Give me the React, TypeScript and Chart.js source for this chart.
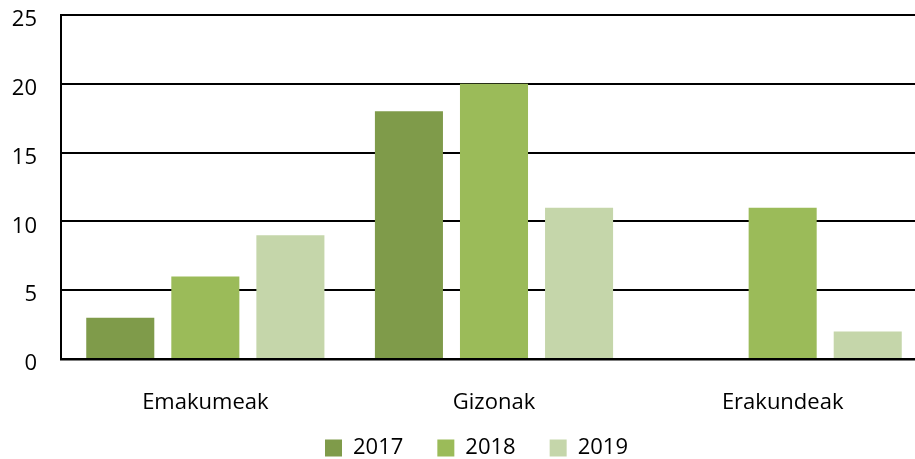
import React, { useEffect, useRef } from "react";
import { Chart, registerables } from "chart.js";

Chart.register(...registerables);

const categories = ["Emakumeak", "Gizonak", "Erakundeak"];
const seriesNames = ["2017", "2018", "2019"];
const values2017 = [3, 18, 0];
const values2018 = [6, 20, 11];
const values2019 = [9, 11, 2];
const colors = ["#7f9b4a", "#9bbb59", "#c5d6aa"];

const CANVAS_W = 927;
const CANVAS_H = 459;

const legendPlacePlugin = {
  id: "legendPlace",
  beforeLayout(chart: any) {
    const lg = chart.legend;
    if (lg && !lg.__patched) {
      const orig = lg.fit;
      lg.fit = function () {
        orig.call(this);
        this.height = 44;
      };
      lg.__patched = true;
    }
  },
  afterLayout(chart: any) {
    const lg = chart.legend;
    if (lg) {
      lg.top = 403;
      lg.bottom = 459;
      lg.height = 56;
      lg.left += 13;
      lg.right += 13;
    }
  },
};

export default function App() {
  const ref = useRef<HTMLCanvasElement | null>(null);
  useEffect(() => {
    document.body.style.margin = "0";
    const font = { family: "'Open Sans'", size: 22 };
    const chart = new Chart(ref.current as HTMLCanvasElement, {
      type: "bar",
      data: {
        labels: categories,
        datasets: [values2017, values2018, values2019].map((v, i) => ({
          label: seriesNames[i],
          data: v,
          backgroundColor: colors[i],
          borderWidth: 0,
          categoryPercentage: 0.884,
          barPercentage: 0.8,
        })),
      },
      plugins: [legendPlacePlugin],
      options: {
        animation: false,
        responsive: false,
        maintainAspectRatio: false,
        layout: { padding: { top: 15, right: 0, left: 0, bottom: 0 } },
        plugins: {
          legend: {
            position: "bottom",
            labels: {
              font,
              color: "#000",
              boxWidth: 17,
              boxHeight: 17,
              padding: 34,
            },
          },
          tooltip: { enabled: false },
        },
        scales: {
          x: {
            grid: { display: false, drawTicks: false },
            border: { display: true, color: "#000", width: 2.5 },
            ticks: { font, color: "#000", padding: 31 },
            afterFit: (s: any) => {
              s.height = 56;
              s.paddingLeft = 0;
              s.paddingRight = 0;
            },
          },
          y: {
            min: 0,
            max: 25,
            ticks: { stepSize: 5, font, color: "#000", padding: 24, labelOffset: 5 },
            grid: { color: "#000", lineWidth: 2, drawTicks: false },
            border: { display: true, color: "#000", width: 2 },
            afterFit: (s: any) => {
              s.width = 61;
              s.paddingTop = 0;
              s.paddingBottom = 0;
            },
          },
        },
      },
    });
    return () => chart.destroy();
  }, []);
  return (
    <div style={{ width: 915, height: 459, overflow: "hidden" }}>
      <canvas
        ref={ref}
        width={CANVAS_W}
        height={CANVAS_H}
        style={{ display: "block", width: CANVAS_W, height: CANVAS_H }}
      />
    </div>
  );
}
